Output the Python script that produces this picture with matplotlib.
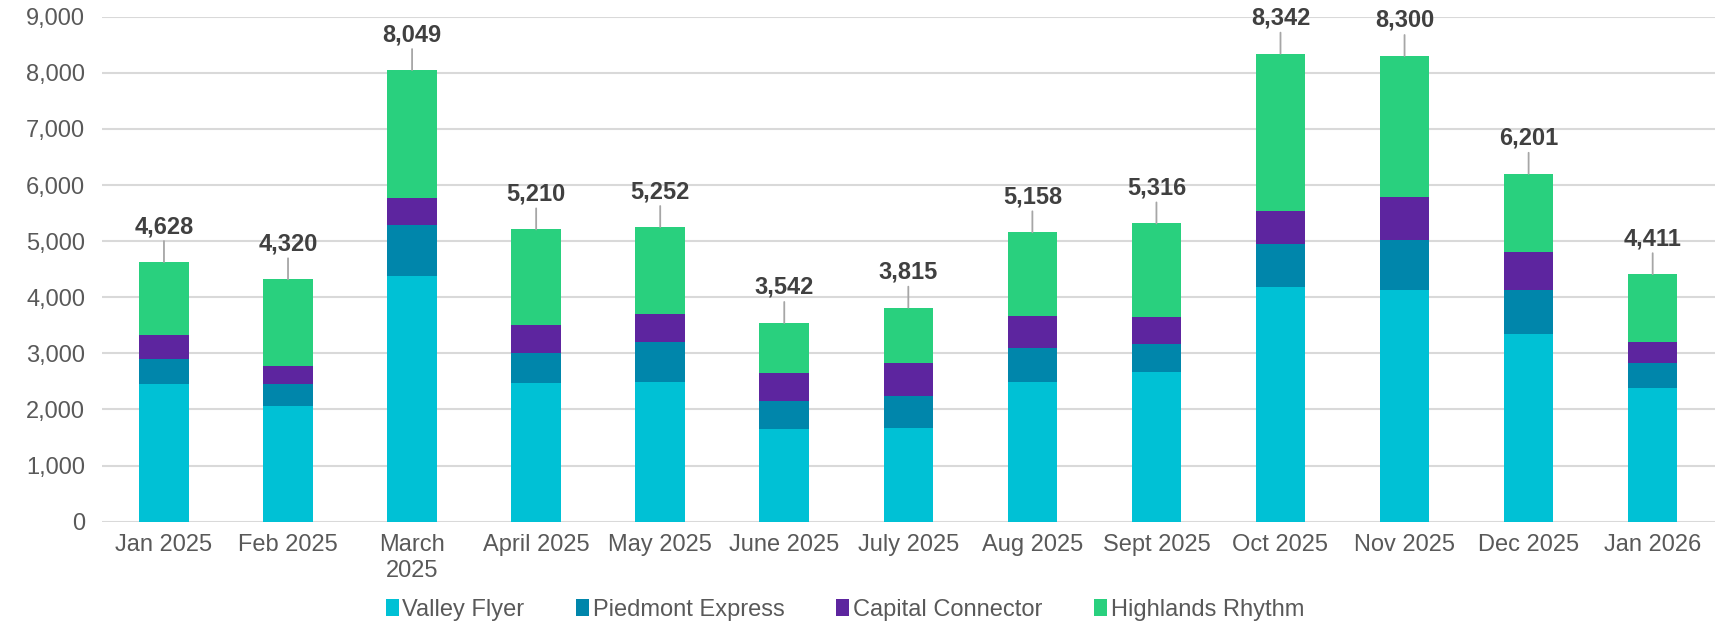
import matplotlib
matplotlib.use("Agg")
import matplotlib.pyplot as plt
import numpy as np

months = ["Jan 2025", "Feb 2025", "March\n2025", "April 2025", "May 2025", "June 2025",
          "July 2025", "Aug 2025", "Sept 2025", "Oct 2025", "Nov 2025", "Dec 2025", "Jan 2026"]
valley_flyer = [2446, 2057, 4376, 2471, 2484, 1656, 1675, 2497, 2675, 4191, 4121, 3344, 2382]
piedmont_express = [446, 389, 911, 535, 713, 490, 573, 605, 491, 764, 892, 777, 440]
capital_connector = [433, 325, 490, 504, 497, 510, 586, 573, 477, 586, 777, 688, 382]
highlands_rhythm = [1303, 1549, 2272, 1700, 1558, 886, 981, 1483, 1673, 2801, 2510, 1392, 1207]

series_names = ["Valley Flyer", "Piedmont Express", "Capital Connector", "Highlands Rhythm"]
colors = ["#00C1D5", "#0086AB", "#5D259F", "#29D07E"]

plt.rcParams['font.family'] = ['Liberation Sans', 'DejaVu Sans']

fig = plt.figure(figsize=(17.19, 6.26), dpi=100)
ax = fig.add_axes([0.0593, 0.1666, 0.9382, 0.8067])

x = np.arange(len(months))
data = [valley_flyer, piedmont_express, capital_connector, highlands_rhythm]
bottom = np.zeros(len(months))
handles = []
for vals, name, c in zip(data, series_names, colors):
    b = ax.bar(x, vals, width=0.4, bottom=bottom, color=c, label=name, zorder=3)
    handles.append(b)
    bottom = bottom + np.array(vals)

totals = bottom
for xi, t in zip(x, totals):
    ax.annotate('', xy=(xi, t), xytext=(0, 21), textcoords='offset pixels',
                arrowprops=dict(arrowstyle='-', color='#A6A6A6', lw=1.3, shrinkA=0, shrinkB=0),
                zorder=4)
    ax.annotate(f"{int(round(t)):,}", xy=(xi, t), xytext=(0, 24), textcoords='offset pixels',
                ha='center', va='bottom', fontsize=17, fontweight='bold', color='#404040')

ax.set_xlim(-0.5, len(months) - 0.5)
ax.set_ylim(0, 9000)
ax.set_yticks(np.arange(0, 9001, 1000))
ax.set_yticklabels([f"{v:,}" for v in range(0, 9001, 1000)])
ax.set_xticks(x)
ax.set_xticklabels(months)
ax.tick_params(axis='both', length=0, labelsize=17, labelcolor='#595959')
ax.tick_params(axis='x', pad=9)
ax.tick_params(axis='y', pad=12)
ax.yaxis.grid(True, color='#D9D9D9', lw=1.5, zorder=0)
ax.set_axisbelow(True)
for s in ax.spines.values():
    s.set_visible(False)

fig.legend(handles=handles, labels=series_names, loc='center', bbox_to_anchor=(0.4915, 0.026),
           ncol=4, frameon=False, fontsize=17, handlelength=0.55, handleheight=0.7,
           handletextpad=0.15, columnspacing=2.2, labelcolor='#595959')

fig.savefig("out.png", dpi=100)
